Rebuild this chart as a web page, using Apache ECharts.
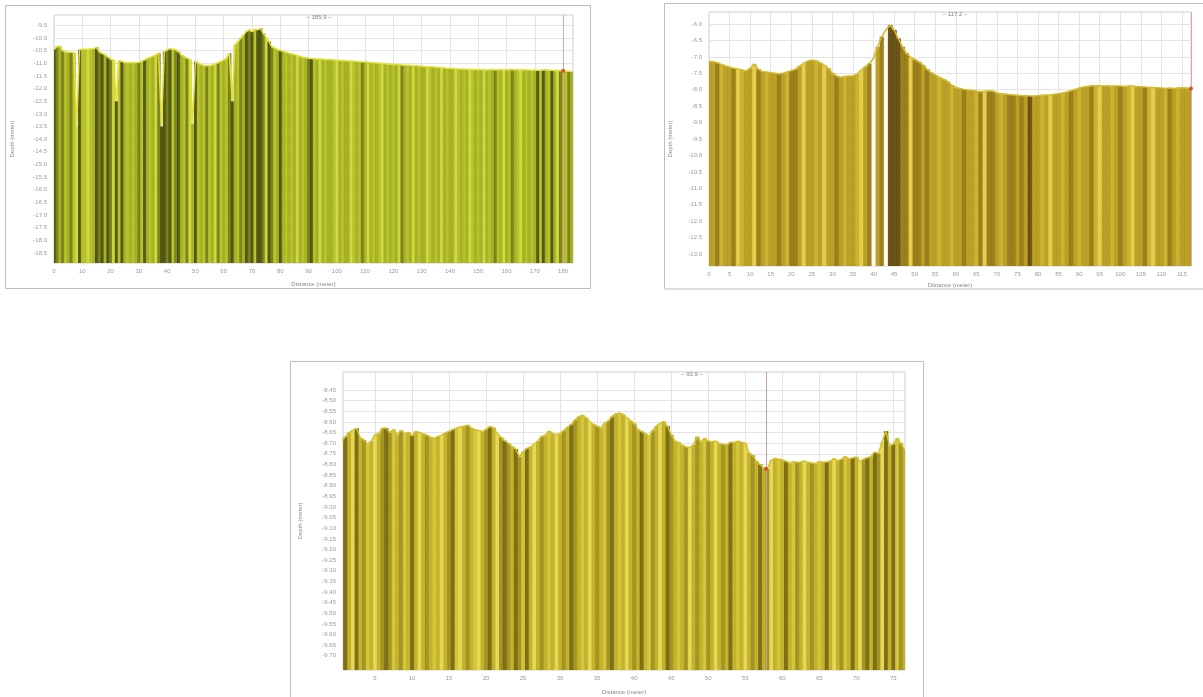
<!DOCTYPE html>
<html><head><meta charset="utf-8">
<script src="https://cdn.jsdelivr.net/npm/echarts/dist/echarts.min.js"></script>
<style>html,body{margin:0;padding:0;background:#fff}#c{width:1203px;height:697px}</style>
</head><body><div id="c"></div><script>
// ---------- DATA ----------
// Profile 1 (sample every 1 m from 0 m)
const start1 = 0, step1 = 1;
const depth1 = [-10.45,-10.35,-10.32,-10.5,-10.55,-10.57,-10.57,-10.58,-13.5,-10.47,
 -10.45,-10.45,-10.45,-10.44,-10.43,-10.37,-10.55,-10.62,-10.67,-10.76,
 -10.84,-10.87,-12.5,-10.9,-10.93,-10.97,-10.97,-10.98,-10.98,-10.97,
 -10.96,-10.92,-10.87,-10.82,-10.76,-10.72,-10.67,-10.6,-13.5,-10.55,
 -10.47,-10.43,-10.45,-10.47,-10.55,-10.67,-10.74,-10.8,-10.84,-13.4,
 -10.93,-11.0,-11.05,-11.1,-11.1,-11.1,-11.07,-11.03,-10.98,-10.93,
 -10.87,-10.8,-10.6,-12.5,-10.28,-10.15,-10.02,-9.88,-9.75,-9.68,
 -9.75,-9.66,-9.68,-9.62,-9.82,-10.0,-10.15,-10.35,-10.4,-10.47,
 -10.5,-10.53,-10.57,-10.6,-10.63,-10.66,-10.7,-10.73,-10.76,-10.78,
 -10.8,-10.81,-10.82,-10.83,-10.83,-10.84,-10.85,-10.86,-10.86,-10.87,
 -10.88,-10.89,-10.89,-10.9,-10.91,-10.91,-10.92,-10.93,-10.94,-10.95,
 -10.95,-10.96,-10.97,-10.98,-10.99,-11.0,-11.01,-11.02,-11.03,-11.04,
 -11.05,-11.05,-11.06,-11.07,-11.08,-11.08,-11.09,-11.1,-11.1,-11.11,
 -11.12,-11.13,-11.14,-11.14,-11.15,-11.16,-11.17,-11.18,-11.19,-11.2,
 -11.21,-11.21,-11.22,-11.23,-11.23,-11.24,-11.24,-11.25,-11.25,-11.25,
 -11.26,-11.26,-11.26,-11.27,-11.26,-11.26,-11.27,-11.26,-11.26,-11.27,
 -11.26,-11.26,-11.25,-11.26,-11.26,-11.27,-11.26,-11.27,-11.27,-11.28,
 -11.27,-11.28,-11.28,-11.27,-11.26,-11.28,-11.28,-11.29,-11.28,-11.3,
 -11.3,-11.31,-11.32,-11.33];
// return-intensity class per sample (0 = brightest .. 4 = darkest)
const shade1 = [4,3,2,3,1,2,3,1,0,4, 1,1,0,1,2,4,3,4,2,4, 3,0,4,1,4,2,1,2,1,2,
 3,1,4,2,1,2,0,3,4,4, 3,4,1,3,4,2,1,3,0,2, 4,1,2,1,3,1,2,0,3,1, 2,1,3,4,2,1,3,2,4,3,
 4,1,4,4,3,0,4,3,1,2, 4,2,1,2,1,2,0,2,1,2, 3,4,1,2,0,2,1,2,2,1, 0,2,1,2,2,0,1,2,1,3,
 2,0,2,1,2,1,0,2,1,2, 1,2,0,3,2,1,2,0,2,1, 2,2,0,1,2,1,2,0,2,1, 2,2,0,1,2,1,2,0,1,2,
 1,2,0,2,1,2,3,1,2,0, 2,1,3,2,1,0,2,1,2,1, 2,4,1,4,2,1,4,2,0,3, 2,1,3,2];
const title1 = '\u2013 185.9 \u2013';
const cursor1 = [180, -11.3];
const xTicks1 = [0,10,20,30,40,50,60,70,80,90,100,110,120,130,140,150,160,170,180];
const yTicks1 = [-18.5,-18,-17.5,-17,-16.5,-16,-15.5,-15,-14.5,-14,-13.5,-13,-12.5,-12,-11.5,-11,-10.5,-10,-9.5];

// Profile 2 (sample every 1 m from 0 m)
const start2 = 0, step2 = 1;
const depth2 = [-7.13,-7.15,-7.18,-7.23,-7.28,-7.31,-7.35,-7.37,-7.4,-7.43,
 -7.35,-7.22,-7.38,-7.45,-7.46,-7.48,-7.5,-7.52,-7.5,-7.46,
 -7.42,-7.38,-7.28,-7.2,-7.13,-7.1,-7.12,-7.18,-7.25,-7.35,
 -7.5,-7.58,-7.62,-7.6,-7.58,-7.58,-7.52,-7.4,-7.3,-7.2,
 -7.05,-6.69,-6.39,-6.18,-6.03,-6.18,-6.44,-6.69,-6.89,-7.01,
 -7.08,-7.15,-7.25,-7.38,-7.48,-7.55,-7.62,-7.68,-7.75,-7.86,
 -7.93,-7.96,-7.99,-8.01,-8.02,-8.04,-8.06,-8.05,-8.04,-8.04,
 -8.1,-8.12,-8.13,-8.15,-8.16,-8.17,-8.18,-8.18,-8.19,-8.19,
 -8.18,-8.17,-8.16,-8.16,-8.14,-8.12,-8.1,-8.07,-8.03,-7.99,
 -7.95,-7.92,-7.9,-7.88,-7.88,-7.88,-7.89,-7.88,-7.89,-7.89,
 -7.89,-7.9,-7.89,-7.89,-7.9,-7.91,-7.92,-7.93,-7.93,-7.94,
 -7.95,-7.96,-7.95,-7.96,-7.95,-7.94,-7.95,-7.96];
// class 5 = no return (gap)
const shade2 = [2,2,3,1,2,2,3,0,1,2, 2,0,3,2,1,2,2,3,2,1, 3,3,2,0,2,2,1,2,0,2,
 2,3,2,1,2,2,1,0,2,3, 5,2,3,5,4,4,4,3,3,0, 3,3,2,3,2,2,1,2,2,1, 2,2,3,2,2,1,3,0,3,3,
 2,1,2,3,3,2,3,2,4,2, 2,1,2,0,2,2,1,2,3,2, 1,2,2,3,1,0,2,2,1,2, 3,2,1,0,2,2,3,1,0,2,
 2,1,3,2,1,2,2,2];
const title2 = '\u2013 117.2 \u2013';
const cursor2 = [117.2, -7.96];
const xTicks2 = [0,5,10,15,20,25,30,35,40,45,50,55,60,65,70,75,80,85,90,95,100,105,110,115];
const yTicks2 = [-13,-12.5,-12,-11.5,-11,-10.5,-10,-9.5,-9,-8.5,-8,-7.5,-7,-6.5,-6];

// Profile 3 (sample every 0.5 m from 0.5 m)
const start3 = 0.5, step3 = 0.5;
const depth3 = [-8.69,-8.67,-8.65,-8.64,-8.63,-8.675,-8.685,-8.705,-8.69,-8.66,
 -8.655,-8.63,-8.628,-8.65,-8.635,-8.66,-8.64,-8.656,-8.649,-8.665,
 -8.645,-8.65,-8.656,-8.662,-8.672,-8.677,-8.668,-8.662,-8.652,-8.645,
 -8.636,-8.63,-8.624,-8.62,-8.615,-8.628,-8.637,-8.64,-8.646,-8.635,
 -8.622,-8.627,-8.654,-8.672,-8.688,-8.7,-8.716,-8.727,-8.765,-8.74,
 -8.725,-8.718,-8.705,-8.69,-8.668,-8.662,-8.643,-8.655,-8.66,-8.654,
 -8.64,-8.625,-8.612,-8.591,-8.575,-8.568,-8.58,-8.599,-8.612,-8.62,
 -8.628,-8.607,-8.595,-8.575,-8.562,-8.558,-8.565,-8.58,-8.594,-8.607,
 -8.635,-8.645,-8.655,-8.669,-8.64,-8.62,-8.607,-8.598,-8.62,-8.66,
 -8.69,-8.696,-8.71,-8.718,-8.721,-8.709,-8.67,-8.693,-8.677,-8.69,
 -8.693,-8.69,-8.701,-8.705,-8.708,-8.696,-8.697,-8.69,-8.696,-8.7,
 -8.745,-8.757,-8.785,-8.8,-8.818,-8.82,-8.78,-8.771,-8.776,-8.779,
 -8.785,-8.795,-8.787,-8.79,-8.788,-8.784,-8.79,-8.793,-8.795,-8.787,
 -8.79,-8.789,-8.784,-8.772,-8.784,-8.775,-8.763,-8.774,-8.77,-8.765,
 -8.787,-8.775,-8.768,-8.763,-8.742,-8.748,-8.693,-8.643,-8.712,-8.705,
 -8.677,-8.7,-8.73];
const shade3 = [3,4,2,0,4,2,3,1,2,0, 2,3,4,3,1,2,3,1,2,4, 2,0,2,3,2,1,2,0,2,3,
 4,1,0,2,3,2,1,0,2,3, 4,2,0,3,4,3,2,4,3,1, 4,2,0,2,3,2,1,2,0,2, 3,2,4,3,2,1,2,0,2,3,
 2,1,3,4,2,1,2,0,2,3, 2,4,2,1,3,2,0,2,4,3, 2,1,2,3,0,2,3,2,1,3, 2,0,2,3,2,4,2,1,2,0,
 2,3,2,4,2,3,0,2,1,2, 4,2,1,3,2,0,2,3,2,1, 2,4,2,0,2,3,1,2,4,2, 0,3,4,2,4,3,0,4,2,4,
 1,3,2];
const title3 = '\u2013 93.9 \u2013';
const cursor3 = [57.8, -8.82];
const xTicks3 = [5,10,15,20,25,30,35,40,45,50,55,60,65,70,75];
const yTicks3 = [-9.70,-9.65,-9.60,-9.55,-9.50,-9.45,-9.40,-9.35,-9.30,-9.25,-9.20,-9.15,-9.10,
 -9.05,-9.00,-8.95,-8.90,-8.85,-8.80,-8.75,-8.70,-8.65,-8.60,-8.55,-8.50,-8.45];

// ---------- LAYOUT / STYLE ----------
const panels = [
  {depth:depth1, shade:shade1, start:start1, step:step1, title:title1, cursor:cursor1, xTicks:xTicks1, yTicks:yTicks1, dec:1,
   grid:{left:54, top:15, width:519, height:248}, xMin:0, xMax:183.5, yMin:-18.895, yMax:-9.093,
   colors:['#cdd52e','#b0bd1a','#9dab12','#6e7806','#434700'], edge:'#e2e03a', cursorColor:'#f2a0a0',
   titleX:314, titleY:9, yGap:39, xGap:18, frame:[5.5,5.5,585,283]},
  {depth:depth2, shade:shade2, start:start2, step:step2, title:title2, cursor:cursor2, xTicks:xTicks2, yTicks:yTicks2, dec:1,
   grid:{left:709, top:12, width:482, height:254}, xMin:0, xMax:117.2, yMin:-13.365, yMax:-5.635,
   colors:['#e2c83c','#c9aa1c','#b49612','#8f7206','#5a4100','#fbfaf0'], edge:'#d4ba2c', cursorColor:'#f2a0a0',
   titleX:950, titleY:6, yGap:36, xGap:16, frame:[664.5,3.5,560,285.5]},
  {depth:depth3, shade:shade3, start:start3, step:step3, title:title3, cursor:cursor3, xTicks:xTicks3, yTicks:yTicks3, dec:2,
   grid:{left:343, top:372, width:562, height:298}, xMin:0.68, xMax:76.58, yMin:-9.767, yMax:-8.365,
   colors:['#e3d545','#d0c028','#bdab19','#9a890e','#6f6100'], edge:'#d2c02a', cursorColor:'#c4a0a8',
   titleX:687, titleY:366, yGap:40, xGap:19, frame:[290.5,361.5,633,340]}
];

const lbl = {fontSize:6, color:'#9a9a9a', fontFamily:'Liberation Sans, Arial, sans-serif'};
const nameStyle = {fontSize:6, color:'#8a8a8a', fontFamily:'Liberation Sans, Arial, sans-serif'};

function barRenderer(half, yBase){
  return function(params, api){
    const x = api.value(0), v = api.value(1);
    const a = api.coord([x - half, v]);
    const b = api.coord([x + half, yBase]);
    return {type:'rect', shape:{x:a[0], y:a[1], width:(b[0]-a[0])+0.6, height:b[1]-a[1]},
      style:{fill: api.visual('color'), opacity:0.9}};
  };
}

const option = {animation:false, backgroundColor:'#fff',
  grid:[], xAxis:[], yAxis:[], series:[], visualMap:[], title:[], graphic:[]};

panels.forEach((p, k) => {
  const rows = p.depth.map((d, i) => [p.start + i * p.step, d, p.shade[i]]);
  option.grid.push(Object.assign({show:true, borderColor:'#cfcfcf', borderWidth:1, backgroundColor:'#fff', containLabel:false}, p.grid));
  option.xAxis.push({gridIndex:k, type:'value', min:p.xMin, max:p.xMax,
    axisLine:{show:false}, axisTick:{show:false, customValues:p.xTicks},
    axisLabel:Object.assign({customValues:p.xTicks, margin:5, formatter:v=>String(v)}, lbl),
    splitLine:{show:true, lineStyle:{color:'#e3e3e3', width:1}},
    name:'Distance (meter)', nameLocation:'middle', nameGap:p.xGap, nameTextStyle:nameStyle});
  option.yAxis.push({gridIndex:k, type:'value', min:p.yMin, max:p.yMax,
    axisLine:{show:false}, axisTick:{show:false, customValues:p.yTicks},
    axisLabel:Object.assign({customValues:p.yTicks, margin:7, formatter:v=>v.toFixed(p.dec)}, lbl),
    splitLine:{show:true, lineStyle:{color:'#e3e3e3', width:1}},
    name:'Depth (meter)', nameLocation:'middle', nameGap:p.yGap, nameTextStyle:nameStyle});
  option.series.push({type:'custom', xAxisIndex:k, yAxisIndex:k, clip:true, silent:true,
    dimensions:['dist','depth','shade'], encode:{x:0, y:1},
    renderItem:barRenderer(p.step/2, p.yMin), data:rows, z:2});
  option.series.push({type:'line', xAxisIndex:k, yAxisIndex:k, silent:true, showSymbol:false,
    data:rows.map(r => [r[0], r[1]]), lineStyle:{color:p.edge, width:1.5}, z:3,
    markLine:{symbol:'none', silent:true, label:{show:false}, lineStyle:{color:p.cursorColor, width:1, type:'solid'},
      data:[{xAxis:p.cursor[0]}]}});
  option.series.push({type:'scatter', xAxisIndex:k, yAxisIndex:k, silent:true, data:[p.cursor],
    symbolSize:4, itemStyle:{color:'#e0301e'}, z:5});
  option.visualMap.push({type:'piecewise', show:false, seriesIndex:3*k, dimension:2,
    pieces:p.colors.map((c, i) => ({value:i, color:c}))});
  option.title.push({text:p.title, left:p.titleX, top:p.titleY, textAlign:'center',
    textStyle:{fontSize:6, color:'#808080', fontWeight:'normal', fontFamily:'Liberation Sans, Arial, sans-serif'}});
  option.graphic.push({type:'rect', silent:true, z:100,
    shape:{x:p.frame[0], y:p.frame[1], width:p.frame[2], height:p.frame[3]},
    style:{fill:null, stroke:'#bdbdbd', lineWidth:1}});
});

const chart = echarts.init(document.getElementById('c'));
chart.setOption(option);
</script></body></html>
